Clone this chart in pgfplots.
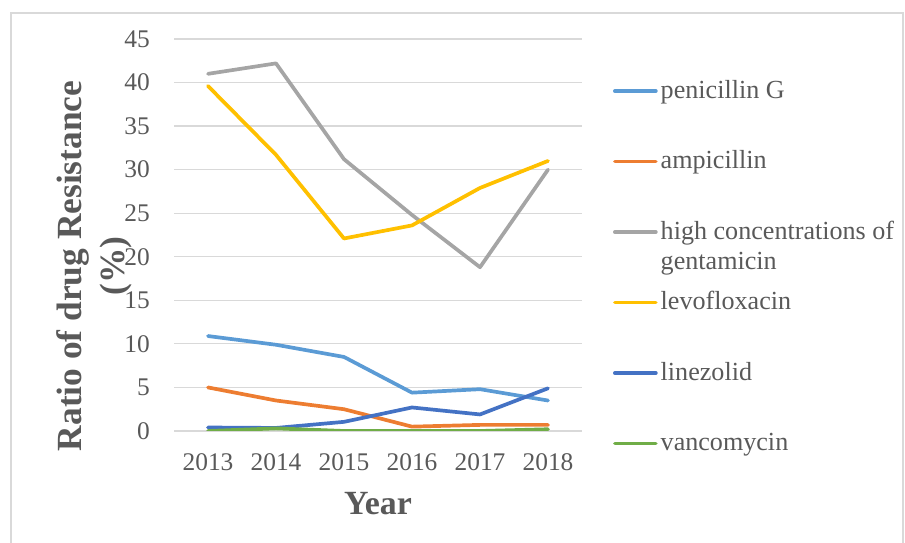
\documentclass[border=0pt]{standalone}
\usepackage{pgfplots}
\pgfplotsset{compat=1.18}
\usepackage{fontspec}
\setmainfont{Liberation Serif}
\definecolor{cPen}{HTML}{5B9BD5}
\definecolor{cAmp}{HTML}{ED7D31}
\definecolor{cGen}{HTML}{A5A5A5}
\definecolor{cLev}{HTML}{FFC000}
\definecolor{cLin}{HTML}{4472C4}
\definecolor{cVan}{HTML}{70AD47}
\definecolor{txt}{HTML}{595959}
\definecolor{grd}{HTML}{D9D9D9}
\begin{document}
\begin{tikzpicture}[x=1bp,y=1bp]
\useasboundingbox (0,0) rectangle (905,543);
\draw[grd,line width=1.2bp] (11,0) -- (11,530) -- (903,530) -- (903,0);
\begin{axis}[
  at={(174bp,112bp)}, anchor=south west,
  scale only axis, width=408bp, height=392bp,
  xmin=0.5, xmax=6.5, ymin=0, ymax=45,
  xtick={1,2,3,4,5,6},
  xticklabels={2013,2014,2015,2016,2017,2018},
  ytick={0,5,...,45},
  axis line style={draw=none},
  major tick length=0pt,
  ymajorgrids, grid style={grd,line width=1.2bp},
  /pgf/number format/assume math mode=true,
  ticklabel style={font=\fontsize{25.5}{30}\selectfont, text=txt},
  yticklabel style={inner sep=0pt, anchor=east, xshift=-24bp},
  xticklabel style={inner sep=0pt, anchor=north, yshift=-22bp},
  xlabel={Year},
  xlabel style={at={(axis description cs:0.5,0)}, anchor=center, yshift=-72.5bp,
    font=\fontsize{34}{40}\selectfont\bfseries, text=txt},
  ylabel={Ratio of drug Resistance\\(\%)},
  ylabel style={at={(axis description cs:0,0.421)}, anchor=center, rotate=0,
    yshift=80bp,
    align=center, font=\fontsize{35.5}{43}\selectfont\bfseries, text=txt},
  legend cell align=left,
  legend style={at={(axis description cs:1.076,0.885)}, anchor=north west,
    draw=none, fill=none, inner sep=0pt, outer sep=0pt,
    row sep=56.5bp, column sep=3bp,
    font=\fontsize{26.2}{30.5}\selectfont, text=txt,
    nodes={inner sep=0pt, text height=14bp, text depth=0pt}},
  legend image code/.code={\draw[line width=3.7bp, line cap=round] (2bp,0bp) -- (43bp,0bp);},
  every axis plot/.append style={line width=3.7bp, line join=round, line cap=round},
]
\addplot[cPen] coordinates {(1,10.9) (2,9.9) (3,8.5) (4,4.4) (5,4.8) (6,3.5)};
\addlegendentry{penicillin G}
\addplot[cAmp] coordinates {(1,5.0) (2,3.5) (3,2.5) (4,0.5) (5,0.7) (6,0.7)};
\addlegendentry{ampicillin}
\addplot[cGen] coordinates {(1,41.0) (2,42.2) (3,31.2) (4,24.8) (5,18.8) (6,30.0)};
\addlegendentry{\begin{tabular}[t]{@{}l@{}}high concentrations of\\gentamicin\end{tabular}}
\addplot[cLev] coordinates {(1,39.6) (2,31.7) (3,22.1) (4,23.6) (5,27.9) (6,31.0)};
\addlegendentry{levofloxacin}
\addplot[cLin] coordinates {(1,0.4) (2,0.35) (3,1.05) (4,2.7) (5,1.9) (6,4.9)};
\addlegendentry{linezolid}
\addplot[cVan] coordinates {(1,0) (2,0.3) (3,0) (4,0) (5,0) (6,0.2)};
\addlegendentry{vancomycin}
\end{axis}
\end{tikzpicture}
\end{document}
